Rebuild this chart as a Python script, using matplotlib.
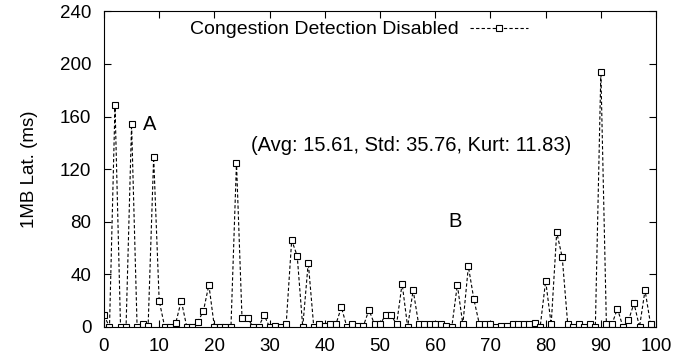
import matplotlib
matplotlib.use("Agg")
import matplotlib.pyplot as plt
import numpy as np

plt.rcParams['font.family'] = ['Liberation Sans', 'DejaVu Sans']

x_vals = list(range(100))
latency = [9, 0, 169, 0, 0, 154, 0, 2, 1, 129,
           20, 0, 0, 3, 20, 0, 0, 4, 12, 32,
           0, 0, 0, 0, 125, 7, 7, 0, 0, 9,
           0, 1, 0, 2, 66, 54, 0, 49, 0, 2,
           1, 2, 2, 15, 0, 2, 1, 1, 13, 2,
           2, 9, 9, 2, 33, 0, 28, 2, 2, 2,
           2, 2, 1, 0, 32, 2, 46, 21, 2, 2,
           2, 0, 1, 1, 2, 2, 2, 2, 3, 0,
           35, 2, 72, 53, 2, 0, 2, 0, 2, 0,
           194, 2, 2, 14, 0, 5, 18, 0, 28, 2]
series_label = "Congestion Detection Disabled"
stats_text = "(Avg: 15.61, Std: 35.76, Kurt: 11.83)"
x_ticks = list(range(0, 101, 10))
y_ticks = list(range(0, 241, 40))

fig = plt.figure(figsize=(6.95, 3.6), dpi=100)
ax = fig.add_axes([0.1496, 0.0917, 0.7944, 0.877])

ax.plot(x_vals, latency, linestyle=(0, (3, 2)), color='black', linewidth=0.8,
        marker='s', markersize=4.5, markerfacecolor='white', markeredgecolor='black',
        markeredgewidth=0.8, label=series_label)

ax.set_xlim(0, 100)
ax.set_ylim(0, 240)
ax.set_xticks(x_ticks)
ax.set_yticks(y_ticks)
ax.tick_params(direction='in', top=True, right=True, labelsize=13.5, length=5, width=0.8)
ax.tick_params(axis='x', pad=8)
ax.tick_params(axis='y', pad=9)
for s in ax.spines.values():
    s.set_linewidth(0.8)
ax.set_ylabel("1MB Lat. (ms)", fontsize=13.5, labelpad=16)

ax.text(7.0, 154, "A", fontsize=14.5, ha='left', va='center')
ax.text(62.3, 80, "B", fontsize=14.5, ha='left', va='center')
ax.text(55.7, 138, stats_text, fontsize=14.5, ha='center', va='center')

leg = ax.legend(loc='upper center', bbox_to_anchor=(0.462, 1.025), frameon=False,
                markerfirst=False, fontsize=14, handlelength=3.0, handletextpad=0.6,
                numpoints=1)

fig.savefig("out.png", dpi=100)
